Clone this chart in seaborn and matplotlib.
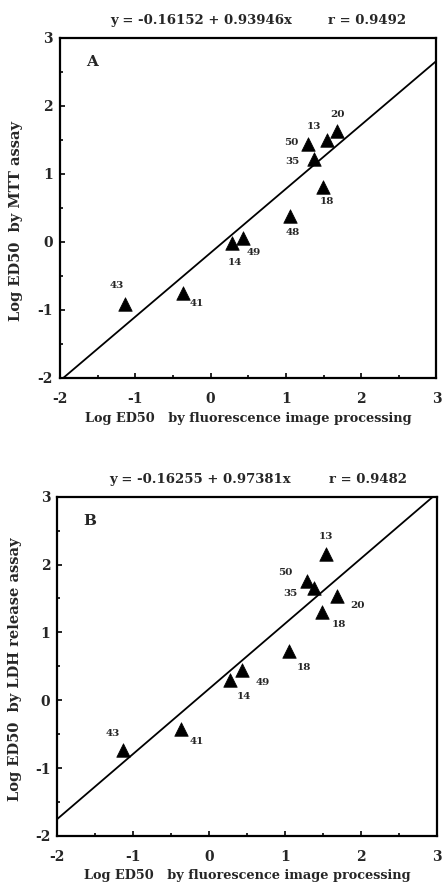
import numpy as np
import pandas as pd
import matplotlib
matplotlib.use("Agg")
import matplotlib.pyplot as plt
import seaborn as sns

# ---------------- data ----------------
compounds_a = ["43", "41", "14", "49", "48", "18", "35", "50", "13", "20"]
fluor_a = [-1.14, -0.37, 0.28, 0.43, 1.05, 1.49, 1.38, 1.29, 1.54, 1.68]
mtt_a = [-0.91, -0.75, -0.02, 0.06, 0.38, 0.80, 1.22, 1.44, 1.49, 1.62]

compounds_b = ["43", "41", "14", "49", "18", "18", "35", "50", "13", "20"]
fluor_b = [-1.14, -0.37, 0.28, 0.43, 1.05, 1.49, 1.38, 1.29, 1.54, 1.68]
ldh_b = [-0.73, -0.43, 0.30, 0.45, 0.73, 1.30, 1.65, 1.76, 2.16, 1.54]

# regression lines (A as stated; B as drawn in the figure)
line_a_intercept, line_a_slope = -0.16152, 0.93946
line_b_intercept, line_b_slope = 0.17, 0.96

title_a_eq = "y = -0.16152 + 0.93946x"
title_a_r = "r = 0.9492"
title_b_eq = "y = -0.16255 + 0.97381x"
title_b_r = "r = 0.9482"

xlabel = "Log ED50   by fluorescence image processing"
ylabel_a = "Log ED50  by MTT assay"
ylabel_b = "Log ED50  by LDH release assay"

axis_lim = [-2, 3]
major_ticks = [-2, -1, 0, 1, 2, 3]
minor_ticks = [-1.5, -0.5, 0.5, 1.5, 2.5]

# label offsets (points) for annotations
offs_a = [(-6, 13), (10, -8), (2, -14), (8, -11), (2, -12), (3, -10), (-16, -2), (-12, 1), (-9, 10), (0, 12)]
offs_b = [(-7, 12), (11, -9), (10, -12), (15, -9), (11, -12), (12, -9), (-17, -4), (-16, 6), (0, 12), (15, -7)]

# ---------------- style ----------------
sns.set_style("white")
plt.rcParams["font.family"] = ["DejaVu Serif"]
plt.rcParams["font.weight"] = "bold"
plt.rcParams["axes.labelweight"] = "bold"

fig = plt.figure(figsize=(4.42, 8.85), dpi=100)
ax_a = fig.add_axes([0.1357, 0.5729, 0.8518, 0.3847])
ax_b = fig.add_axes([0.1296, 0.0554, 0.8590, 0.3834])


def draw_panel(ax, comps, xs, ys, a, b, eq, rtxt, letter, ylab, offs,
               ylab_pos, xlab_y, eq_x, r_x):
    df = pd.DataFrame({"x": xs, "y": ys})
    lx = np.array(axis_lim, dtype=float)
    ldf = pd.DataFrame({"x": lx, "y": a + b * lx})
    sns.lineplot(data=ldf, x="x", y="y", ax=ax, color="black", linewidth=1.3)
    sns.scatterplot(data=df, x="x", y="y", ax=ax, marker="^", s=95,
                    color="black", edgecolor="black", linewidth=0.5, zorder=3)
    for c, x, y, o in zip(comps, xs, ys, offs):
        ax.annotate(c, (x, y), xytext=o, textcoords="offset points",
                    ha="center", va="center", fontsize=7.5, fontweight="bold")
    ax.set_xlim(axis_lim)
    ax.set_ylim(axis_lim)
    ax.set_xticks(major_ticks)
    ax.set_yticks(major_ticks)
    ax.set_xticks(minor_ticks, minor=True)
    ax.set_yticks(minor_ticks, minor=True)
    ax.set_xticklabels([str(t) for t in major_ticks])
    ax.set_yticklabels([str(t) for t in major_ticks])
    ax.tick_params(axis="both", which="both", direction="in", bottom=True, left=True,
                   top=False, right=False, color="black", width=1.2)
    ax.tick_params(axis="both", which="major", length=3.5, labelsize=10)
    ax.tick_params(axis="both", which="minor", length=2.5)
    ax.tick_params(axis="x", which="major", pad=10)
    ax.tick_params(axis="y", which="major", pad=5)
    for sp in ax.spines.values():
        sp.set_visible(True)
        sp.set_color("black")
        sp.set_linewidth(1.6)
    ax.set_xlabel(xlabel, fontsize=9.3, fontweight="bold")
    ax.set_ylabel(ylab, fontsize=10.5, fontweight="bold")
    ax.xaxis.set_label_coords(0.5, xlab_y)
    ax.yaxis.set_label_coords(ylab_pos[0], ylab_pos[1])
    ax.text(eq_x, 1.051, eq, transform=ax.transAxes, ha="left", va="center",
            fontsize=9.5, fontweight="bold")
    ax.text(r_x, 1.051, rtxt, transform=ax.transAxes, ha="left", va="center",
            fontsize=9.5, fontweight="bold")
    ax.text(0.085, 0.928, letter, transform=ax.transAxes, ha="center", va="center",
            fontsize=11, fontweight="bold")


draw_panel(ax_a, compounds_a, fluor_a, mtt_a, line_a_intercept, line_a_slope,
           title_a_eq, title_a_r, "A", ylabel_a, offs_a, (-0.097, 0.46), -0.100,
           0.133, 0.711)
draw_panel(ax_b, compounds_b, fluor_b, ldh_b, line_b_intercept, line_b_slope,
           title_b_eq, title_b_r, "B", ylabel_b, offs_b, (-0.093, 0.49), -0.097,
           0.136, 0.716)

fig.savefig("out.png", dpi=100)
